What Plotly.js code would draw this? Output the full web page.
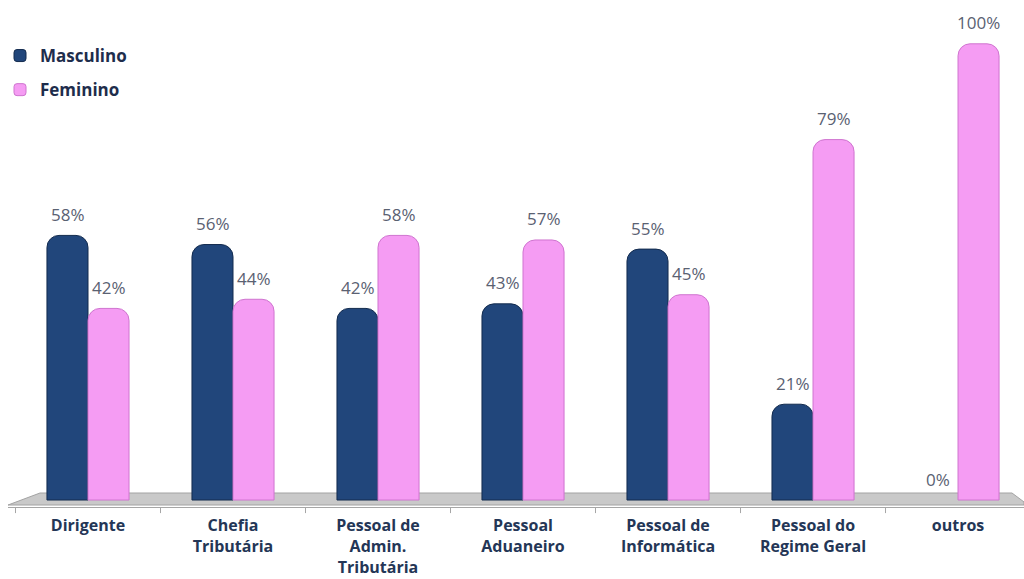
<!DOCTYPE html>
<html>
<head>
<meta charset="utf-8">
<script src="https://cdn.plot.ly/plotly-3.0.1.min.js"></script>
<style>html,body{margin:0;padding:0;background:#fff;}#chart{width:1024px;height:579px;}</style>
</head>
<body>
<div id="chart"></div>
<script>
const categories = ["Dirigente", "Chefia<br>Tributária", "Pessoal de<br>Admin.<br>Tributária", "Pessoal<br>Aduaneiro", "Pessoal de<br>Informática", "Pessoal do<br>Regime Geral", "outros"];
const masculino = [58, 56, 42, 43, 55, 21, 0];
const feminino = [42, 44, 58, 57, 45, 79, 100];
const seriesNames = ["Masculino", "Feminino"];

const W = 1024, H = 579;
const mL = 8, mR = 0, mT = 0, mB = 72;
const plotW = W - mL - mR, plotH = H - mT - mB;
const px2paperX = p => (p - mL) / plotW;
const px2paperY = p => (H - mB - p) / plotH;

const xIdx = categories.map((_, i) => i);
const edgeW = vals => vals.map(v => v > 0 ? 1 : 0);

const traces = [
  {
    type: "bar", name: seriesNames[0], x: xIdx, y: masculino,
    marker: {color: "#21467b", line: {color: "#132b4e", width: edgeW(masculino)}},
    legendgroup: "m", hoverinfo: "skip"
  },
  {
    type: "bar", name: seriesNames[1], x: xIdx, y: feminino,
    marker: {color: "#f59cf3", line: {color: "#cf74cf", width: edgeW(feminino)}},
    legendgroup: "f", hoverinfo: "skip"
  }
];

const lblFont = {family: "Open Sans, sans-serif", size: 17, color: "#5a6172"};
const annotations = [];
masculino.forEach((v, i) => annotations.push({
  x: i, y: v, xref: "x", yref: "y", text: v + "%", showarrow: false,
  xshift: -20.5, yshift: 21, font: lblFont
}));
feminino.forEach((v, i) => annotations.push({
  x: i, y: v, xref: "x", yref: "y", text: v + "%", showarrow: false,
  xshift: 20.5, yshift: 21, font: lblFont
}));

const floorPts = [[8, 505], [40, 493], [1012, 493], [1024, 502], [1024, 505]];
const floorPath = "M " + floorPts.map(p => px2paperX(p[0]).toFixed(4) + "," + px2paperY(p[1]).toFixed(4)).join(" L ") + " Z";

const layout = {
  width: W, height: H,
  margin: {l: mL, r: mR, t: mT, b: mB},
  paper_bgcolor: "#ffffff", plot_bgcolor: "rgba(0,0,0,0)",
  barmode: "group", bargap: 0.434, bargroupgap: 0, barcornerradius: 12,
  showlegend: true,
  legend: {
    x: px2paperX(0), y: px2paperY(38), xanchor: "left", yanchor: "top",
    traceorder: "grouped", tracegroupgap: 9,
    font: {family: "Open Sans, sans-serif", size: 17, color: "#1e2d4c", weight: 700},
    itemwidth: 30, bgcolor: "rgba(0,0,0,0)"
  },
  xaxis: {
    type: "linear", range: [-0.5517, 6.455],
    tickmode: "array", tickvals: xIdx, ticktext: categories,
    showgrid: false, zeroline: false, showline: true, linecolor: "#a6a6a6", linewidth: 1,
    ticks: "", tickfont: {family: "Open Sans, sans-serif", size: 16, color: "#243656", weight: 700},
    ticklabelstandoff: 4
  },
  yaxis: {
    range: [-1.53, 109.6], visible: false, showgrid: false, zeroline: false
  },
  shapes: [
    {type: "path", xref: "paper", yref: "paper", path: floorPath, fillcolor: "#c9c9c9", line: {color: "#a3a3a3", width: 1}, layer: "below"}
  ].concat([-0.5, 0.5, 1.5, 2.5, 3.5, 4.5, 5.5].map(b => ({
    type: "line", xref: "x", yref: "paper", x0: b, x1: b, y0: 0, y1: -0.012, line: {color: "#a6a6a6", width: 1}
  }))),
  annotations: annotations
};

Plotly.newPlot("chart", traces, layout, {displayModeBar: false, staticPlot: true});
</script>
</body>
</html>
